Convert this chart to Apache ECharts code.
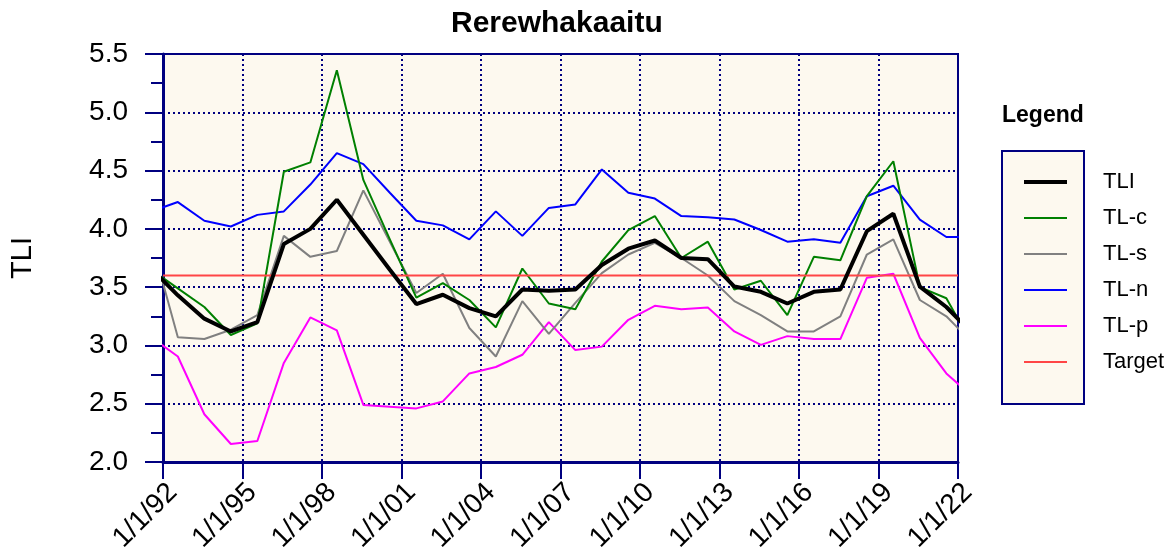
<!DOCTYPE html>
<html>
<head>
<meta charset="utf-8">
<script src="https://cdn.jsdelivr.net/npm/echarts@6/dist/echarts.min.js"></script>
<style>
  html, body { margin: 0; padding: 0; background: #fff; }
  #chart { width: 1176px; height: 555px; }
</style>
</head>
<body>
<div id="chart"></div>
<script>
// sample years (one sample per year, taken mid-year)
var sampleYears = [1991, 1992, 1993, 1994, 1995, 1996, 1997, 1998, 1999, 2000,
  2001, 2002, 2003, 2004, 2005, 2006, 2007, 2008, 2009, 2010,
  2011, 2012, 2013, 2014, 2015, 2016, 2017, 2018, 2019, 2020, 2021, 2022];
var sampleFraction = 0.56;

var tli = [3.66, 3.43, 3.23, 3.12, 3.20, 3.87, 4.00, 4.25, 3.95, 3.65,
  3.355, 3.435, 3.32, 3.25, 3.48, 3.47, 3.48, 3.69, 3.83, 3.90,
  3.75, 3.74, 3.505, 3.46, 3.36, 3.46, 3.48, 3.98, 4.13, 3.505, 3.33, 3.10];
var tlc = [3.65, 3.49, 3.33, 3.09, 3.19, 4.49, 4.57, 5.36, 4.42, 3.91,
  3.41, 3.535, 3.39, 3.155, 3.66, 3.36, 3.31, 3.72, 3.99, 4.11,
  3.75, 3.89, 3.48, 3.555, 3.26, 3.76, 3.73, 4.28, 4.58, 3.50, 3.405, 3.00];
var tls = [3.90, 3.07, 3.055, 3.135, 3.26, 3.94, 3.76, 3.81, 4.33, 3.89,
  3.45, 3.615, 3.15, 2.905, 3.38, 3.10, 3.365, 3.62, 3.78, 3.88,
  3.75, 3.60, 3.38, 3.26, 3.12, 3.12, 3.25, 3.78, 3.91, 3.39, 3.25, 3.02];
var tln = [4.15, 4.23, 4.07, 4.02, 4.12, 4.15, 4.38, 4.65, 4.555, 4.31,
  4.07, 4.03, 3.91, 4.15, 3.94, 4.18, 4.21, 4.51, 4.31, 4.26,
  4.11, 4.10, 4.08, 3.99, 3.89, 3.91, 3.88, 4.28, 4.37, 4.08, 3.93, 3.93];
var tlp = [3.07, 2.905, 2.41, 2.155, 2.18, 2.85, 3.24, 3.13, 2.49, 2.475,
  2.46, 2.52, 2.76, 2.815, 2.92, 3.20, 2.96, 2.99, 3.22, 3.34,
  3.31, 3.325, 3.12, 3.005, 3.08, 3.055, 3.055, 3.58, 3.615, 3.065, 2.76, 2.56];
var targetValue = 3.6;

var xMin = 1992, xMax = 2022, xStep = 3;
var yMin = 2.0, yMax = 5.5, yStep = 0.5;

var NAVY = '#000080';
var CREAM = '#fdf9ef';
var FONT = "'Liberation Sans', Arial, sans-serif";

function pairs(vals) {
  var out = [];
  for (var i = 0; i < vals.length; i++) {
    out.push([sampleYears[i] + sampleFraction, vals[i]]);
  }
  return out;
}

function lineSeries(name, vals, color, width) {
  return {
    name: name,
    type: 'line',
    data: pairs(vals),
    symbol: 'none',
    clip: true,
    lineStyle: { color: color, width: width },
    itemStyle: { color: color }
  };
}

var chart = echarts.init(document.getElementById('chart'), null, { renderer: 'canvas' });

var option = {
  animation: false,
  backgroundColor: '#ffffff',
  textStyle: { fontFamily: FONT },
  title: {
    text: 'Rerewhakaaitu',
    left: 451,
    top: 9,
    padding: 0,
    textStyle: { fontFamily: FONT, fontSize: 30, fontWeight: 'bold', color: '#000' }
  },
  grid: {
    left: 160, right: 218, top: 54, bottom: 92,
    show: true,
    backgroundColor: CREAM,
    borderColor: NAVY,
    borderWidth: 2
  },
  graphic: [
    {
      type: 'text',
      left: 1002,
      top: 104,
      z: 10,
      style: { text: 'Legend', font: 'bold 23px ' + FONT, fill: '#000' }
    },
    {
      type: 'rect',
      z: 0,
      shape: { x: 1002, y: 151, width: 82, height: 253 },
      style: { fill: CREAM, stroke: NAVY, lineWidth: 2 }
    }
  ],
  legend: {
    orient: 'vertical',
    left: 1022,
    top: 171,
    padding: 0,
    itemWidth: 43,
    itemHeight: 14,
    itemGap: 14,
    selectedMode: false,
    z: 20,
    itemStyle: { opacity: 0 },
    data: [
      { name: 'TLI', lineStyle: { width: 4 } },
      'TL-c', 'TL-s', 'TL-n', 'TL-p', 'Target'
    ],
    textStyle: {
      fontFamily: FONT, fontSize: 22, color: '#000',
      lineHeight: 22, padding: [0, 0, 0, 31]
    }
  },
  xAxis: {
    type: 'value',
    min: xMin, max: xMax, interval: xStep,
    axisLine: { show: true, lineStyle: { color: NAVY, width: 3 } },
    axisTick: { show: true, length: 17, lineStyle: { color: NAVY, width: 2 } },
    axisLabel: {
      rotate: 45, margin: 16, verticalAlign: 'top',
      fontFamily: FONT, fontSize: 28, color: '#000',
      formatter: function (v) { return '1/1/' + String(v).slice(2); }
    },
    splitLine: { show: true, lineStyle: { color: NAVY, width: 2, type: [2, 3] } }
  },
  yAxis: {
    type: 'value',
    min: yMin, max: yMax, interval: yStep,
    name: 'TLI',
    nameLocation: 'middle',
    nameRotate: 90,
    nameGap: 126,
    nameTextStyle: { fontFamily: FONT, fontSize: 29, color: '#000' },
    axisLine: { show: true, lineStyle: { color: NAVY, width: 3 } },
    axisTick: { show: true, length: 18, lineStyle: { color: NAVY, width: 2 } },
    minorTick: { show: true, splitNumber: 2, length: 12, lineStyle: { color: NAVY, width: 2 } },
    axisLabel: {
      margin: 35,
      fontFamily: FONT, fontSize: 28, color: '#000',
      formatter: function (v) { return v.toFixed(1); }
    },
    splitLine: { show: true, lineStyle: { color: NAVY, width: 2, type: [2, 3] } }
  },
  series: [
    lineSeries('TL-n', tln, '#0000ff', 2),
    lineSeries('TL-p', tlp, '#ff00ff', 2),
    lineSeries('TL-s', tls, '#808080', 2),
    lineSeries('TL-c', tlc, '#008000', 2),
    {
      name: 'Target',
      type: 'line',
      symbol: 'none',
      data: [[xMin, targetValue], [xMax, targetValue]],
      lineStyle: { color: '#ff4646', width: 2 },
      itemStyle: { color: '#ff4646' }
    },
    lineSeries('TLI', tli, '#000000', 4)
  ]
};

chart.setOption(option);
</script>
</body>
</html>
